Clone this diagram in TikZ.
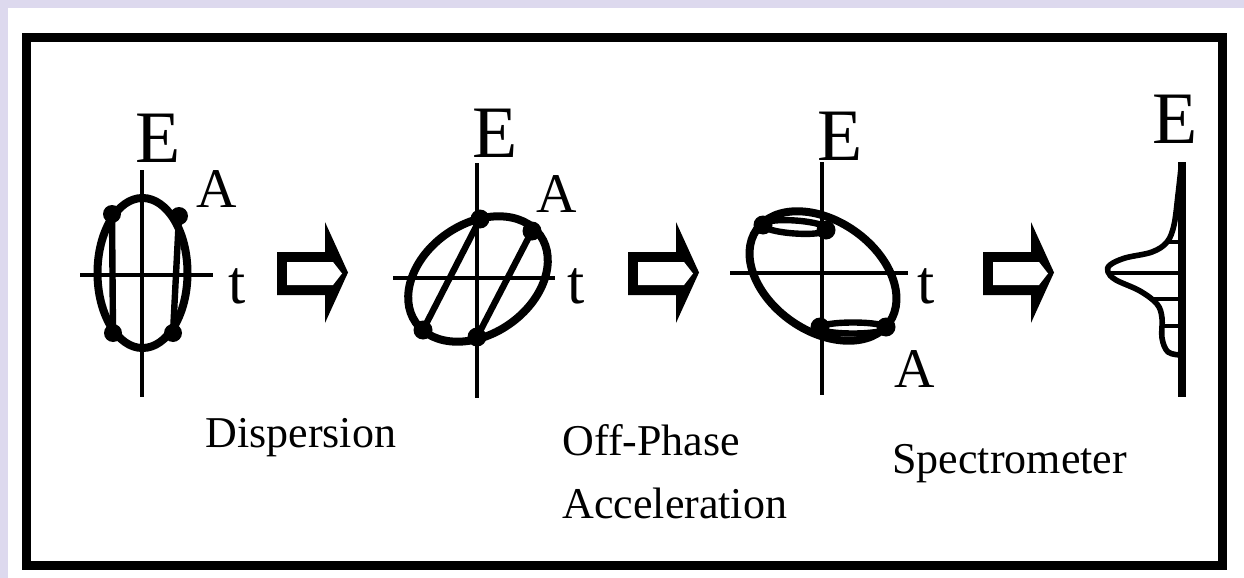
\documentclass[tikz,border=0pt]{standalone}
\usepackage{fontspec}
\setmainfont{Liberation Serif}
\definecolor{lav}{RGB}{221,217,238}
\begin{document}
\begin{tikzpicture}[x=0.5pt,y=-0.5pt,
  axis/.style={line width=2.1pt},
  ell/.style={line width=4pt},
  inner/.style={line width=3.2pt},
  dot/.style={fill=black},
  bigE/.style={inner sep=0pt,anchor=base,font=\fontsize{37}{40}\selectfont},
  smallt/.style={inner sep=0pt,anchor=base,font=\fontsize{31}{36}\selectfont},
  labA/.style={inner sep=0pt,anchor=base,font=\fontsize{28}{32}\selectfont},
  lab/.style={inner sep=0pt,anchor=base west,font=\fontsize{22}{26}\selectfont}]
\useasboundingbox (0,0) rectangle (1244,578);
\fill[lav] (0,0) rectangle (1244,578);
\fill[white] (8,8) rectangle (1244,578);
\draw[line width=4.5pt] (26.5,37) rectangle (1222,565);

% ---- diagram 1
\draw[axis] (142,170) -- (142,397);
\draw[axis] (80,275) -- (213,275);
\draw[ell] (142.5,273) ellipse [x radius=45, y radius=75];
\coordinate (d1a) at (112,214);
\coordinate (d1b) at (179,216);
\coordinate (d1c) at (113,333);
\coordinate (d1d) at (173,333);
\draw[inner] (d1a) -- (d1c);
\draw[inner] (d1b) -- (d1d);
\foreach \p in {d1a,d1b,d1c,d1d} \fill[dot] (\p) circle [radius=9];
\node[bigE] (E1) at (158,162) {E};
\node[labA] (A1) at (217,207) {A};
\node[smallt] (t1) at (237,303) {t};

% ---- diagram 2
\draw[axis] (477,163) -- (477,398);
\draw[axis] (393,278) -- (555,278);
\draw[ell,rotate around={35:(478,279)}] (478,279) ellipse [x radius=76, y radius=55];
\coordinate (d2a) at (480,219);
\coordinate (d2b) at (532,231);
\coordinate (d2c) at (423,330);
\coordinate (d2d) at (477,337);
\draw[inner] (d2a) -- (d2c);
\draw[inner] (d2b) -- (d2d);
\foreach \p in {d2a,d2b,d2c,d2d} \fill[dot] (\p) circle [radius=9.5];
\node[bigE] (E2) at (495,157) {E};
\node[labA] (A2) at (557,212) {A};
\node[smallt] (t2) at (576,303) {t};

% ---- diagram 3
\draw[axis] (822,162) -- (822,395);
\draw[axis] (730,273) -- (908,273);
\draw[ell,rotate around={-35:(823,276)}] (823,276) ellipse [x radius=81, y radius=55];
\draw[inner,rotate around={-4:(795,227)}] (795,227) ellipse [x radius=33, y radius=6.5];
\draw[inner] (853,328) ellipse [x radius=34, y radius=5.5];
\coordinate (d3a) at (763,225);
\coordinate (d3b) at (826,230);
\coordinate (d3c) at (820,327);
\coordinate (d3d) at (886,327);
\foreach \p in {d3a,d3b,d3c,d3d} \fill[dot] (\p) circle [radius=9.5];
\node[bigE] (E3) at (840,160) {E};
\node[smallt] (t3) at (926,303) {t};
\node[labA] (A3) at (915,387) {A};

% ---- diagram 4
\draw[line width=4pt] (1182,162) -- (1182,397);
\draw[line width=2.8pt,line join=round] plot[smooth,tension=0.6] coordinates {
  (1181,168) (1178,195) (1174,225) (1167,242) (1152,252) (1125,258)
  (1110,265) (1108,272) (1116,280) (1140,291) (1157,304) (1162,318)
  (1162,338) (1168,352) (1181,355)};
\coordinate (h1) at (1169,242);
\coordinate (h2) at (1108,273);
\coordinate (h3) at (1152,299);
\coordinate (h4) at (1162,326);
\foreach \p in {h1,h2,h3,h4} \draw[line width=2.2pt] (\p) -- (1182,0 |- \p);
\node[bigE] (E4) at (1175,143) {E};

% ---- block arrows
\foreach \x [count=\i] in {277,628,983} {
  \fill[black] (\x,252) -- (\x+48,252) -- (\x+48,222) -- (\x+71,272.5)
     -- (\x+48,323) -- (\x+48,295) -- (\x,295) -- cycle;
  \fill[white] (\x+10,262) -- (\x+56,262) -- (\x+65,273.5) -- (\x+56,285)
     -- (\x+10,285) -- cycle;
}

% ---- labels
\node[lab] (disp) at (205,447) {Dispersion};
\node[lab] (off) at (562,455) {Off-Phase};
\node[lab] (acc) at (562,518) {Acceleration};
\node[lab] (spec) at (892,473) {Spectrometer};
\end{tikzpicture}
\end{document}
